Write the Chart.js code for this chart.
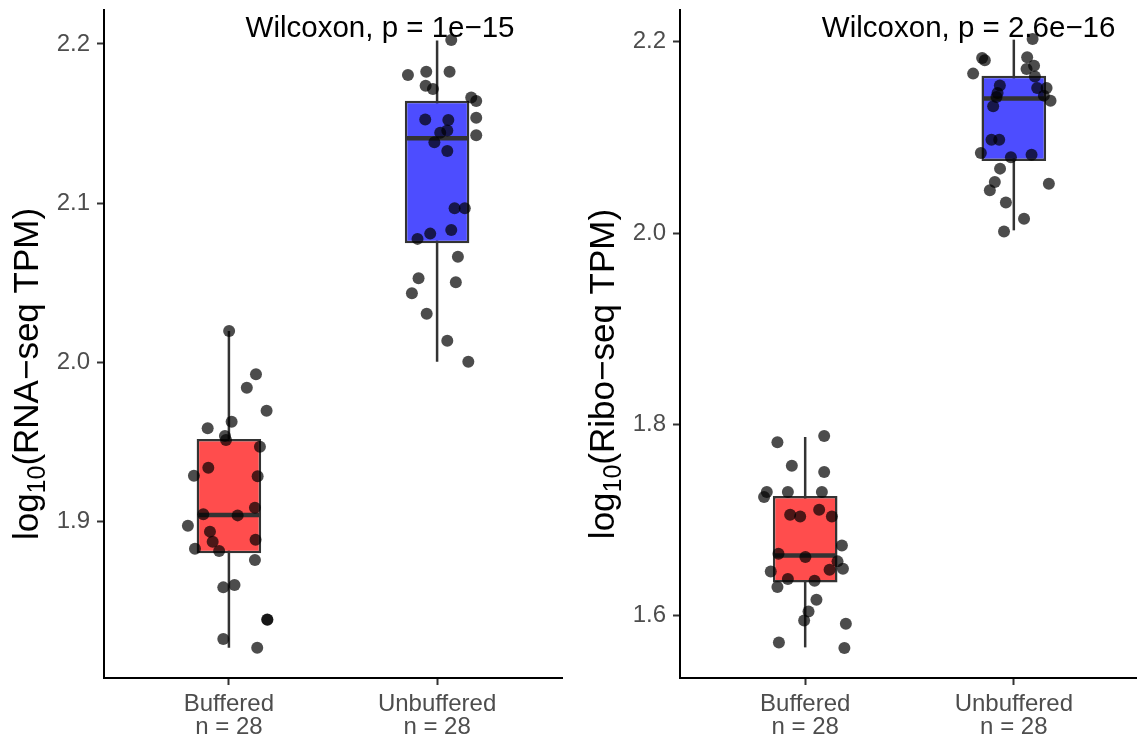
<!DOCTYPE html>
<html>
<head>
<meta charset="utf-8">
<title>Buffered vs Unbuffered</title>
<script src="https://cdn.jsdelivr.net/npm/chart.js"></script>
<style>
  html, body { margin: 0; background: #fff; overflow: hidden; }
  #wrap { position: relative; width: 1137px; height: 740px; overflow: hidden; }
  .panel { position: absolute; top: 0; height: 740px; }
</style>
</head>
<body>
<div id="wrap">
  <div class="panel" style="left:0;width:568px"><canvas id="rnaChart"></canvas></div>
  <div class="panel" style="left:576px;width:569px"><canvas id="riboChart"></canvas></div>
</div>
<script>
const groups = ['Buffered', 'Unbuffered'];
const groupN = [28, 28];
const boxColors = ['#FF4D4D', '#4D4DFF'];

// ---- RNA-seq panel ----
const rnaTicks = [1.9, 2.0, 2.1, 2.2];
const rnaRange = [1.8019, 2.2213];
const rnaBufferedValues = [2.0198, 1.9926, 1.9842, 1.9697, 1.9628, 1.9587, 1.9538, 1.9513, 1.9471, 1.9339,
  1.9289, 1.9285, 1.9088, 1.9047, 1.9040, 1.8975, 1.8938, 1.8875, 1.8887, 1.8831,
  1.8816, 1.8760, 1.8588, 1.8603, 1.8387, 1.8384, 1.8264, 1.8209];
const rnaBufferedJitter = [0.001, 0.130, 0.086, 0.181, 0.013, -0.102, -0.019, -0.014, 0.149, -0.099,
  -0.168, 0.138, 0.125, -0.123, 0.042, -0.197, -0.091, -0.078, 0.128, -0.163,
  -0.047, 0.125, -0.027, 0.027, 0.184, 0.185, -0.027, 0.136];
const rnaUnbufferedValues = [2.2025, 2.1805, 2.1826, 2.1826, 2.1738, 2.1717, 2.1663, 2.1642, 2.1537, 2.1427,
  2.1525, 2.1523, 2.1443, 2.1456, 2.1383, 2.1328, 2.0968, 2.0968, 2.0832, 2.0809,
  2.0776, 2.0664, 2.0529, 2.0504, 2.0435, 2.0306, 2.0137, 2.0005];
const rnaUnbufferedJitter = [0.068, -0.140, -0.052, 0.060, -0.055, -0.020, 0.164, 0.188, 0.188, 0.188,
  -0.057, 0.054, 0.015, 0.049, -0.013, 0.049, 0.084, 0.133, 0.068, -0.033,
  -0.094, 0.100, -0.089, 0.090, -0.121, -0.050, 0.049, 0.150];
const rnaWhiskerLow = [1.8209, 2.0005];
const rnaQ1 = [1.8802, 2.0749];
const rnaMedian = [1.9042, 2.1408];
const rnaQ3 = [1.9520, 2.1644];
const rnaWhiskerHigh = [2.0198, 2.2021];
const rnaPText = 'Wilcoxon, p = 1e\u221215';

// ---- Ribo-seq panel ----
const riboTicks = [1.6, 1.8, 2.0, 2.2];
const riboRange = [1.5349, 2.2331];
const riboBufferedValues = [1.7879, 1.7812, 1.7568, 1.7502, 1.7293, 1.7241, 1.7293, 1.7293, 1.7056, 1.7038,
  1.7108, 1.7038, 1.6735, 1.6648, 1.6614, 1.6568, 1.6492, 1.6481, 1.6463, 1.6384,
  1.6366, 1.6300, 1.6168, 1.6045, 1.5951, 1.5917, 1.5721, 1.5663];
const riboBufferedJitter = [0.091, -0.133, -0.064, 0.091, -0.184, -0.197, -0.083, 0.080, -0.072, -0.024,
  0.067, 0.128, 0.176, -0.128, 0.001, 0.155, 0.181, 0.117, -0.165, -0.083,
  0.045, -0.133, 0.054, 0.016, -0.005, 0.195, -0.126, 0.188];
const riboUnbufferedValues = [2.2028, 2.1830, 2.1805, 2.1836, 2.1749, 2.1715, 2.1666, 2.1637, 2.1543, 2.1516,
  2.1516, 2.1464, 2.1422, 2.1436, 2.1383, 2.1324, 2.0976, 2.0976, 2.0837, 2.0791,
  2.0819, 2.0673, 2.0534, 2.0516, 2.0446, 2.0320, 2.0150, 2.0017];
const riboUnbufferedJitter = [0.090, -0.152, -0.139, 0.064, 0.097, 0.061, -0.195, 0.101, -0.067, 0.112,
  0.157, -0.078, -0.083, 0.144, 0.176, -0.099, -0.107, -0.070, -0.158, -0.014,
  0.085, -0.066, -0.091, 0.168, -0.115, -0.038, 0.049, -0.047];
const riboWhiskerLow = [1.5669, 2.0028];
const riboQ1 = [1.6348, 2.0753];
const riboMedian = [1.6630, 2.1407];
const riboQ3 = [1.7251, 2.1645];
const riboWhiskerHigh = [1.7868, 2.2021];
const riboPText = 'Wilcoxon, p = 2.6e\u221216';

const FONT = '"Liberation Sans", Arial, Helvetica, sans-serif';
Chart.defaults.font.family = FONT;

// p-value text drawn in data coordinates
const pLabelPlugin = {
  id: 'pLabel',
  afterDatasetsDraw(chart, args, opts) {
    const { ctx, scales: { x, y } } = chart;
    ctx.save();
    ctx.font = '29.5px ' + FONT;
    ctx.fillStyle = '#000';
    ctx.textAlign = 'left';
    ctx.textBaseline = 'alphabetic';
    ctx.fillText(opts.text, x.getPixelForValue(opts.x), y.getPixelForValue(opts.y));
    ctx.restore();
  }
};

// y title with subscript 10
const yTitlePlugin = {
  id: 'yTitle',
  afterDraw(chart, args, opts) {
    const { ctx, chartArea } = chart;
    const big = '35px ' + FONT, small = '25px ' + FONT;
    ctx.save();
    ctx.font = big;
    const w1 = ctx.measureText('log').width;
    const w3 = ctx.measureText(opts.rest).width;
    ctx.font = small;
    const w2 = ctx.measureText('10').width;
    ctx.translate(opts.x, (chartArea.top + chartArea.bottom) / 2 + opts.shift);
    ctx.rotate(-Math.PI / 2);
    ctx.fillStyle = '#000';
    ctx.textBaseline = 'alphabetic';
    let cx = -(w1 + w2 + w3) / 2;
    ctx.font = big; ctx.fillText('log', cx, 0); cx += w1;
    ctx.font = small; ctx.fillText('10', cx, 7); cx += w2;
    ctx.font = big; ctx.fillText(opts.rest, cx, 0);
    ctx.restore();
  }
};

function makePanel(canvasId, p) {
  const points = [];
  p.values.forEach((vals, g) => {
    vals.forEach((v, i) => points.push({ x: g + 1 + p.jitter[g][i], y: v }));
  });

  const datasets = [];
  groups.forEach((name, g) => {
    datasets.push({
      type: 'line',
      data: [{ x: g + 1, y: p.low[g] }, { x: g + 1, y: p.high[g] }],
      borderColor: '#333', borderWidth: 2.5, pointRadius: 0, order: 4
    });
    datasets.push({
      type: 'line',
      data: [{ x: g + 1 - 0.15, y: p.median[g] }, { x: g + 1 + 0.15, y: p.median[g] }],
      borderColor: '#333', borderWidth: 4.5, pointRadius: 0, order: 2
    });
  });
  datasets.push({
    type: 'bar',
    data: groups.map((name, g) => ({ x: g + 1, y: [p.q1[g], p.q3[g]] })),
    backgroundColor: boxColors,
    borderColor: '#333',
    borderWidth: 2.5,
    borderSkipped: false,
    barPercentage: 0.31,
    categoryPercentage: 1,
    grouped: false,
    order: 3
  });
  datasets.push({
    type: 'scatter',
    data: points,
    backgroundColor: 'rgba(0,0,0,0.7)',
    borderWidth: 0,
    pointRadius: 6,
    pointHoverRadius: 6,
    order: 1
  });

  const axisCommon = {
    grid: { display: true, offset: false, drawOnChartArea: false, drawTicks: true, tickLength: 7, tickWidth: 2, tickColor: '#333' },
    border: { display: true, color: '#000', width: 2 }
  };

  new Chart(document.getElementById(canvasId), {
    type: 'bar',
    data: { datasets },
    options: {
      responsive: true,
      maintainAspectRatio: false,
      animation: false,
      layout: { padding: { top: 10, right: p.padRight, bottom: 0, left: 0 } },
      plugins: {
        legend: { display: false },
        tooltip: { enabled: false },
        pLabel: { text: p.pText, x: 1.08, y: p.labelY },
        yTitle: { rest: p.titleRest, x: 38, shift: 30 }
      },
      scales: {
        x: {
          type: 'linear', min: 0.4, max: 2.6, offset: false,
          afterBuildTicks: s => { s.ticks = groups.map((n, g) => ({ value: g + 1 })); },
          afterFit: s => { s.height = 62; s.paddingLeft = 0; s.paddingRight = 0; },
          ticks: {
            callback: (v, i) => [groups[i], 'n = ' + groupN[i]],
            color: '#4d4d4d', font: { size: 24, lineHeight: 0.96 },
            maxRotation: 0, autoSkip: false, padding: 8
          },
          ...axisCommon
        },
        y: {
          type: 'linear', min: p.range[0], max: p.range[1],
          afterBuildTicks: s => { s.ticks = p.ticks.map(v => ({ value: v })); },
          afterFit: s => { s.width = 104; s.paddingTop = 0; s.paddingBottom = 0; },
          ticks: {
            callback: v => v.toFixed(1),
            color: '#4d4d4d', font: { size: 24 }, padding: 7
          },
          ...axisCommon
        }
      }
    },
    plugins: [pLabelPlugin, yTitlePlugin]
  });
}

makePanel('rnaChart', {
  values: [rnaBufferedValues, rnaUnbufferedValues],
  jitter: [rnaBufferedJitter, rnaUnbufferedJitter],
  low: rnaWhiskerLow, q1: rnaQ1, median: rnaMedian, q3: rnaQ3, high: rnaWhiskerHigh,
  ticks: rnaTicks, range: rnaRange, pText: rnaPText, labelY: 2.2046,
  titleRest: '(RNA\u2212seq TPM)', padRight: 5
});
makePanel('riboChart', {
  values: [riboBufferedValues, riboUnbufferedValues],
  jitter: [riboBufferedJitter, riboUnbufferedJitter],
  low: riboWhiskerLow, q1: riboQ1, median: riboMedian, q3: riboQ3, high: riboWhiskerHigh,
  ticks: riboTicks, range: riboRange, pText: riboPText, labelY: 2.2052,
  titleRest: '(Ribo\u2212seq TPM)', padRight: 0
});
</script>
</body>
</html>
